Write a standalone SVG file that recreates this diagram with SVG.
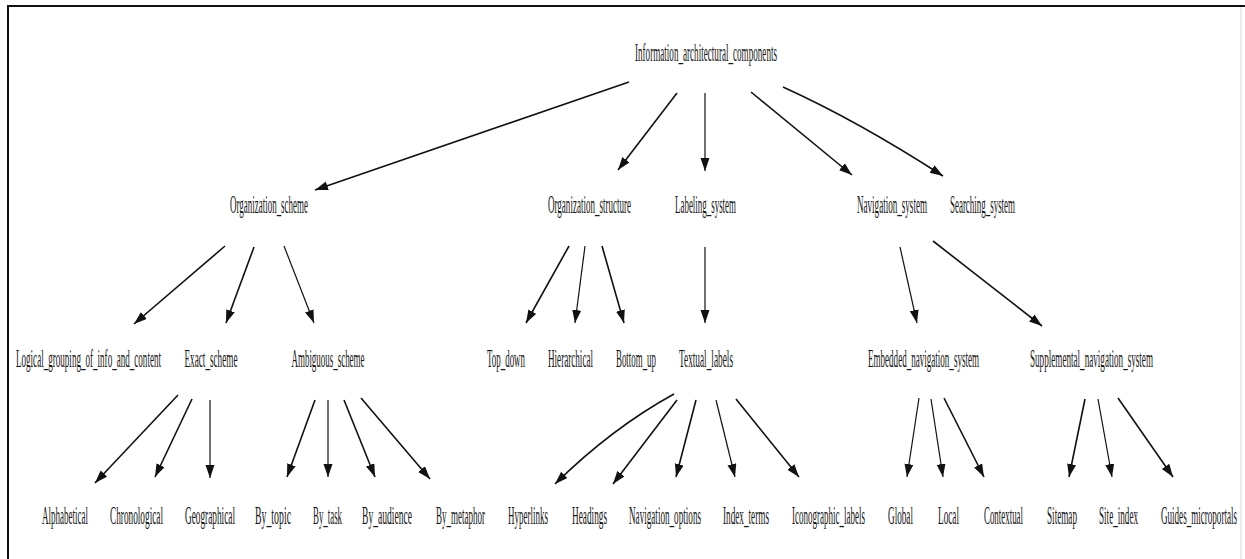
<svg xmlns="http://www.w3.org/2000/svg" width="1245" height="559" viewBox="0 0 1245 559">
<style>
.n text{font-family:"Liberation Serif","Times New Roman",serif;font-size:26px;fill:#161616;text-anchor:middle}
.e path{fill:none;stroke:#111;stroke-width:1.6;marker-end:url(#ah)}
.e path.t{stroke-width:1.2}
</style>
<defs>
<marker id="ah" markerWidth="14" markerHeight="10" refX="13" refY="4.5" orient="auto" markerUnits="userSpaceOnUse"><path d="M0,0 L13,4.5 L0,9 z" fill="#111"/></marker>
</defs>
<rect x="0" y="0" width="1245" height="559" fill="#fff"/>
<g id="frame">
<line x1="7" y1="6" x2="1245" y2="6" stroke="#111" stroke-width="2"/>
<line x1="8" y1="5" x2="8" y2="559" stroke="#111" stroke-width="2"/>
<line x1="1241" y1="7" x2="1241" y2="559" stroke="#d6d6d6" stroke-width="1"/>
</g>
<g class="e" id="edges">
<path d="M629,82 L315,190"/>
<path d="M677,93 L618,170"/>
<path class="t" d="M705,93 L705,171"/>
<path d="M751,92 L852,175"/>
<path d="M783,87 Q858,121 943,176"/>
<path d="M225,246 L134,324"/>
<path d="M254,247 L226,323"/>
<path class="t" d="M284,246 L314,323"/>
<path d="M569,246 L526,323"/>
<path class="t" d="M585,246 L575,323"/>
<path d="M602,246 L624,323"/>
<path class="t" d="M705,247 L705,323"/>
<path class="t" d="M900,247 L917,323"/>
<path d="M933,241 L1042,326"/>
<path d="M178,395 L95,483"/>
<path d="M192,399 L155,477"/>
<path class="t" d="M210,400 L210,478"/>
<path d="M315,400 L287,477"/>
<path class="t" d="M328,400 L328,477"/>
<path d="M344,400 L375,477"/>
<path d="M361,398 L430,479"/>
<path d="M674,394 Q612,428 555,484"/>
<path d="M677,400 L613,484"/>
<path d="M696,400 L676,477"/>
<path class="t" d="M716,400 L735,477"/>
<path d="M736,399 L799,477"/>
<path class="t" d="M919,398 L907,477"/>
<path class="t" d="M931,399 L943,477"/>
<path d="M944,398 L984,477"/>
<path d="M1085,399 L1069,477"/>
<path class="t" d="M1098,399 L1112,477"/>
<path d="M1118,398 L1173,477"/>
</g>
<g class="n" id="n_root"><text x="706" y="61" textLength="142" lengthAdjust="spacingAndGlyphs">Information_architectural_components</text></g>
<g class="n" id="n_orgscheme"><text x="269" y="213" textLength="78" lengthAdjust="spacingAndGlyphs">Organization_scheme</text></g>
<g class="n" id="n_orgstruct"><text x="589.5" y="213" textLength="83" lengthAdjust="spacingAndGlyphs">Organization_structure</text></g>
<g class="n" id="n_labeling"><text x="705.5" y="213" textLength="61" lengthAdjust="spacingAndGlyphs">Labeling_system</text></g>
<g class="n" id="n_navigation"><text x="892" y="213" textLength="70" lengthAdjust="spacingAndGlyphs">Navigation_system</text></g>
<g class="n" id="n_searching"><text x="982.5" y="213" textLength="65" lengthAdjust="spacingAndGlyphs">Searching_system</text></g>
<g class="n" id="n_logical"><text x="88.5" y="367" textLength="145" lengthAdjust="spacingAndGlyphs">Logical_grouping_of_info_and_content</text></g>
<g class="n" id="n_exact"><text x="211" y="367" textLength="53" lengthAdjust="spacingAndGlyphs">Exact_scheme</text></g>
<g class="n" id="n_ambiguous"><text x="328" y="367" textLength="73" lengthAdjust="spacingAndGlyphs">Ambiguous_scheme</text></g>
<g class="n" id="n_topdown"><text x="506" y="367" textLength="38" lengthAdjust="spacingAndGlyphs">Top_down</text></g>
<g class="n" id="n_hierarchical"><text x="570.5" y="367" textLength="45" lengthAdjust="spacingAndGlyphs">Hierarchical</text></g>
<g class="n" id="n_bottomup"><text x="636" y="367" textLength="40" lengthAdjust="spacingAndGlyphs">Bottom_up</text></g>
<g class="n" id="n_textual"><text x="706" y="367" textLength="54" lengthAdjust="spacingAndGlyphs">Textual_labels</text></g>
<g class="n" id="n_embedded"><text x="923.5" y="367" textLength="111" lengthAdjust="spacingAndGlyphs">Embedded_navigation_system</text></g>
<g class="n" id="n_supplemental"><text x="1091.5" y="367" textLength="123" lengthAdjust="spacingAndGlyphs">Supplemental_navigation_system</text></g>
<g class="n" id="n_alphabetical"><text x="65" y="524" textLength="46" lengthAdjust="spacingAndGlyphs">Alphabetical</text></g>
<g class="n" id="n_chronological"><text x="136.5" y="524" textLength="53" lengthAdjust="spacingAndGlyphs">Chronological</text></g>
<g class="n" id="n_geographical"><text x="210" y="524" textLength="50" lengthAdjust="spacingAndGlyphs">Geographical</text></g>
<g class="n" id="n_bytopic"><text x="273" y="524" textLength="36" lengthAdjust="spacingAndGlyphs">By_topic</text></g>
<g class="n" id="n_bytask"><text x="327.5" y="524" textLength="29" lengthAdjust="spacingAndGlyphs">By_task</text></g>
<g class="n" id="n_byaudience"><text x="387" y="524" textLength="50" lengthAdjust="spacingAndGlyphs">By_audience</text></g>
<g class="n" id="n_bymetaphor"><text x="460.5" y="524" textLength="49" lengthAdjust="spacingAndGlyphs">By_metaphor</text></g>
<g class="n" id="n_hyperlinks"><text x="528" y="524" textLength="40" lengthAdjust="spacingAndGlyphs">Hyperlinks</text></g>
<g class="n" id="n_headings"><text x="589.5" y="524" textLength="35" lengthAdjust="spacingAndGlyphs">Headings</text></g>
<g class="n" id="n_navoptions"><text x="665" y="524" textLength="72" lengthAdjust="spacingAndGlyphs">Navigation_options</text></g>
<g class="n" id="n_indexterms"><text x="746" y="524" textLength="46" lengthAdjust="spacingAndGlyphs">Index_terms</text></g>
<g class="n" id="n_iconographic"><text x="828.5" y="524" textLength="73" lengthAdjust="spacingAndGlyphs">Iconographic_labels</text></g>
<g class="n" id="n_global"><text x="900.5" y="524" textLength="25" lengthAdjust="spacingAndGlyphs">Global</text></g>
<g class="n" id="n_local"><text x="948.5" y="524" textLength="21" lengthAdjust="spacingAndGlyphs">Local</text></g>
<g class="n" id="n_contextual"><text x="1003.5" y="524" textLength="39" lengthAdjust="spacingAndGlyphs">Contextual</text></g>
<g class="n" id="n_sitemap"><text x="1062" y="524" textLength="30" lengthAdjust="spacingAndGlyphs">Sitemap</text></g>
<g class="n" id="n_siteindex"><text x="1118.5" y="524" textLength="39" lengthAdjust="spacingAndGlyphs">Site_index</text></g>
<g class="n" id="n_guides"><text x="1199" y="524" textLength="76" lengthAdjust="spacingAndGlyphs">Guides_microportals</text></g>
</svg>
